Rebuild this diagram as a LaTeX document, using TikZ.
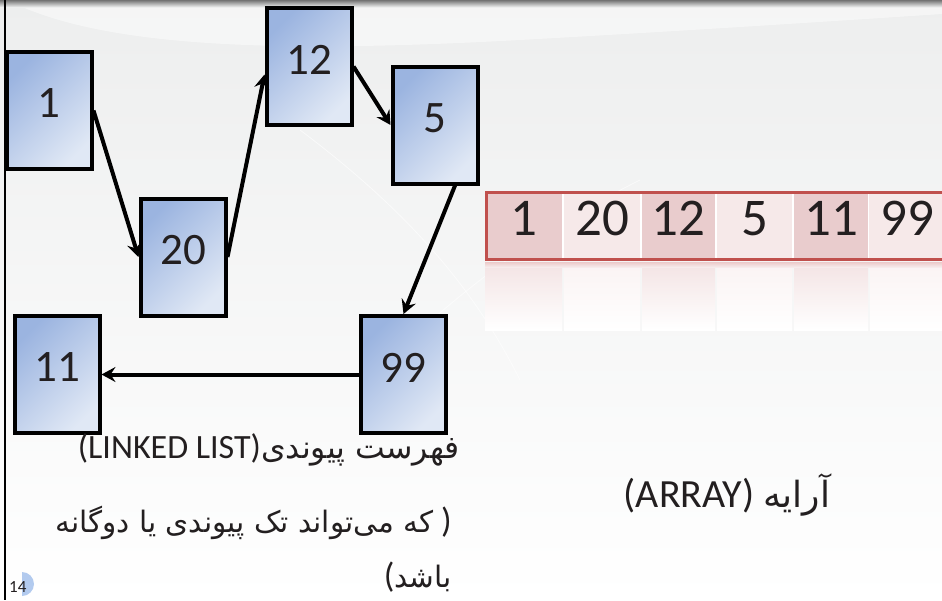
\documentclass[tikz,border=0pt]{standalone}
\usepackage{fontspec}
\setmainfont{Carlito}
\newfontfamily\arabicfont[Script=Arabic]{DejaVu Sans}
\TeXXeTstate=1
\usetikzlibrary{arrows.meta,calc}
\definecolor{boxdark}{RGB}{155,180,224}
\definecolor{boxlight}{RGB}{224,232,245}
\definecolor{arrred}{RGB}{192,80,77}
\definecolor{celldark}{RGB}{233,204,205}
\definecolor{celllight}{RGB}{246,233,233}
\definecolor{bgtop}{RGB}{237,238,238}
\definecolor{txt}{RGB}{35,31,32}
\definecolor{iconblue}{RGB}{160,190,235}
\begin{document}
\begin{tikzpicture}[x=1pt,y=-1pt,
  listbox/.style={draw=black, line width=4pt, top color=boxdark, bottom color=boxlight,
    shading angle=45, minimum width=85pt, minimum height=117pt, inner sep=0pt,
    text depth=14pt, font=\fontsize{45}{50}\selectfont, text=txt},
  link/.style={line width=4pt, -{Stealth[length=14pt,width=15pt,inset=5pt]}},
  cell/.style={minimum height=67pt, inner sep=0pt, text depth=16pt,
    font=\fontsize{53}{58}\selectfont, text=txt},
  lbl/.style={inner sep=0pt, text=txt},
]
\useasboundingbox (0,0) rectangle (942,600);
% background
\shade[top color=bgtop, bottom color=white] (0,0) rectangle (942,600);
\fill[white, opacity=0.45] (20,6) .. controls (120,50) and (300,52) .. (520,40)
   .. controls (700,30) and (850,20) .. (942,14) -- (942,6) -- cycle;
\draw[white, opacity=0.6, line width=0.8pt] (300,130) .. controls (420,220) and (480,300) .. (520,380);
\draw[white, opacity=0.6, line width=0.8pt] (420,330) .. controls (500,260) and (560,220) .. (640,180);
\shade[top color=black!55, bottom color=bgtop] (0,0) rectangle (942,7);
\draw[black, line width=2pt] (5,0) -- (5,600);

% linked list boxes
\node[listbox] (n1)  at (49,110.5)  {1};
\node[listbox] (n20) at (183,257)   {20};
\node[listbox] (n12) at (309,66.5)  {12};
\node[listbox] (n5)  at (435,125)   {5};
\node[listbox] (n11) at (57,374.5)  {11};
\node[listbox] (n99) at (403.5,374.5) {99};

% links
\draw[link] (n1.east) -- (n20.west);
\draw[link] (n20.east) -- ([yshift=-8pt]n12.west);
\draw[link] (n12.east) -- (n5.west);
\draw[link] ([xshift=20pt]n5.south) -- (n99.north);
\draw[link] (n99.west) -- (n11.east);

% array
\fill[white] (485,191) rectangle (942,261);
\node[cell, minimum width=77pt, fill=celldark]  (a1) at (523.5,226) {1};
\node[cell, minimum width=76pt, fill=celllight] (a2) at (602,226)   {20};
\node[cell, minimum width=73pt, fill=celldark]  (a3) at (678.5,226) {12};
\node[cell, minimum width=75pt, fill=celllight] (a4) at (754.5,226) {5};
\node[cell, minimum width=74pt, fill=celldark]  (a5) at (831,226)   {11};
\node[cell, minimum width=76pt, fill=celllight] (a6) at (907,226)   {99};
\draw[arrred, line width=3pt] (950,192.5) -- (486.5,192.5) -- (486.5,259.5) -- (950,259.5);
% reflection
\shade[top color=celldark!55!white, bottom color=white] (485,262) rectangle (562,330);
\shade[top color=celllight!55!white, bottom color=white] (564,262) rectangle (640,330);
\shade[top color=celldark!55!white, bottom color=white] (642,262) rectangle (715,330);
\shade[top color=celllight!55!white, bottom color=white] (717,262) rectangle (792,330);
\shade[top color=celldark!55!white, bottom color=white] (794,262) rectangle (868,330);
\shade[top color=celllight!55!white, bottom color=white] (870,262) rectangle (942,330);
\shade[top color=arrred!30!white, bottom color=celldark!40!white] (485,262) rectangle (942,267);

% labels
\node[lbl, anchor=base east] (ll) at (460,458)
  {\fontsize{34}{39}\selectfont(LINKED LIST){\arabicfont\fontsize{31.5}{36}\selectfont\beginR فهرست پیوندی\endR}};
\node[lbl, anchor=base east] (l2) at (452,532)
  {{\arabicfont\fontsize{29.5}{34}\selectfont\beginR که می‌تواند تک پیوندی یا دوگانه\endR}\fontsize{35}{40}\selectfont\ )};
\node[lbl, anchor=base east] (l3) at (452,587)
  {\fontsize{35}{40}\selectfont({\arabicfont\fontsize{29.5}{34}\selectfont\beginR باشد\endR}};
\node[lbl, anchor=base] (arr) at (727,507)
  {\fontsize{40}{45}\selectfont(ARRAY)\ {\arabicfont\fontsize{36}{41}\selectfont\beginR آرایه\endR}};

% page number
\fill[iconblue, opacity=0.8] (22,596) arc[start angle=90, end angle=-90, radius=12];
\node[lbl, anchor=base west, font=\fontsize{17}{19}\selectfont] (pg) at (9,592) {14};
\end{tikzpicture}
\end{document}
